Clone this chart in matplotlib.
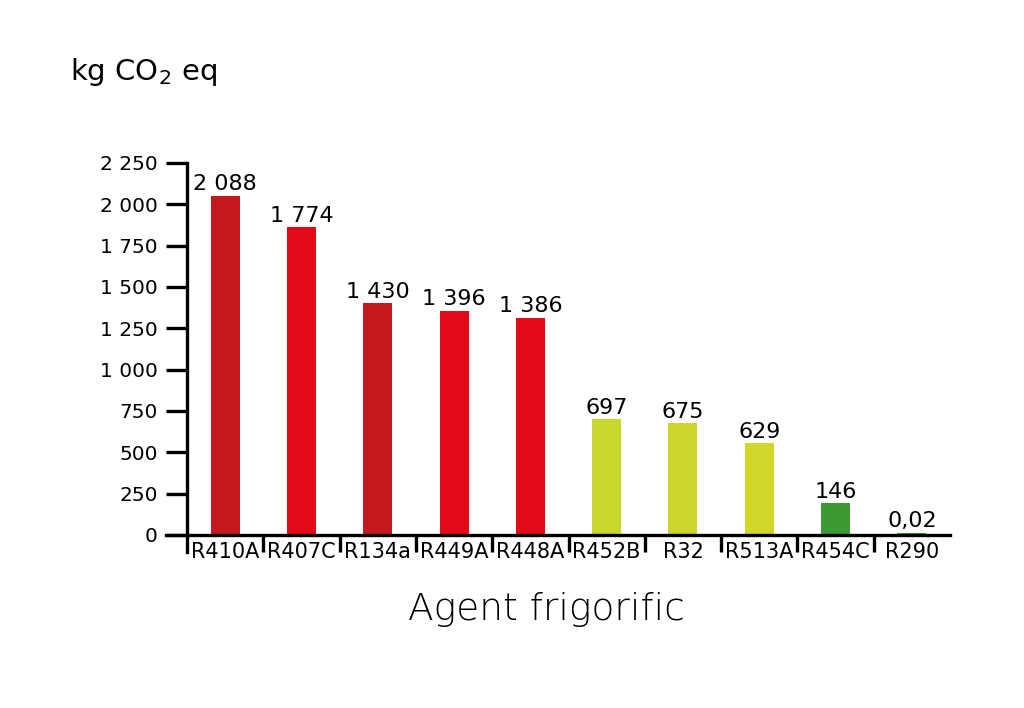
import matplotlib.pyplot as plt

# agenti frigorifici si valorile afisate
agenti = ["R410A", "R407C", "R134a", "R449A", "R448A",
          "R452B", "R32", "R513A", "R454C", "R290"]
etichete = ["2 088", "1 774", "1 430", "1 396", "1 386",
            "697", "675", "629", "146", "0,02"]
# inaltimea barelor asa cum apar in grafic
inaltimi = [2052, 1861, 1401, 1357, 1314, 700, 676, 555, 192, 14]
culori = ["#C41A1F", "#E20A16", "#C41A1F", "#E20A16", "#E20A16",
          "#C9D62B", "#CBD52A", "#D2D629", "#3C9A34", "#3C9A34"]
yticks = [0, 250, 500, 750, 1000, 1250, 1500, 1750, 2000, 2250]
yticklabels = ["0", "250", "500", "750", "1 000", "1 250", "1 500",
               "1 750", "2 000", "2 250"]

plt.rcParams['font.family'] = ['DejaVu Sans']

fig = plt.figure(figsize=(10.24, 7.08), dpi=100)
ax = fig.add_axes([187/1024, 1-535/708, (950-187)/1024, (535-163)/708])

x = list(range(len(agenti)))
ax.bar(x, inaltimi, width=0.38, color=culori)

for xi, h, et in zip(x, inaltimi, etichete):
    ax.annotate(et, (xi, h), xytext=(0, 1), textcoords="offset points",
                ha="center", va="bottom", fontsize=16, color="black")

ax.set_xlim(-0.5, 9.5)
ax.set_ylim(0, 2250)

ax.spines["top"].set_visible(False)
ax.spines["right"].set_visible(False)
for s in ["left", "bottom"]:
    ax.spines[s].set_linewidth(2.4)
ax.spines["left"].set_bounds(-103, 2250)
ax.spines["bottom"].set_bounds(-0.5 - 21/76.3, 9.5)

ax.set_yticks(yticks)
ax.set_yticklabels(yticklabels, fontsize=14.5)
ax.tick_params(axis="y", length=15, width=2.4, pad=6)

ax.set_xticks(x)
ax.set_xticklabels(agenti, fontsize=15)
ax.tick_params(axis="x", which="major", length=0, pad=5)
ax.set_xticks([i + 0.5 for i in range(9)], minor=True)
ax.tick_params(axis="x", which="minor", length=12, width=2.4, direction="out")

fig.text(70/1024, 1-80/708, "kg CO$_2$ eq", fontsize=21, ha="left", va="baseline")
fig.text(546/1024, 1-620/708, "Agent frigorific", fontsize=27, fontweight="light",
         ha="center", va="baseline")

fig.savefig("out.png", dpi=100)
